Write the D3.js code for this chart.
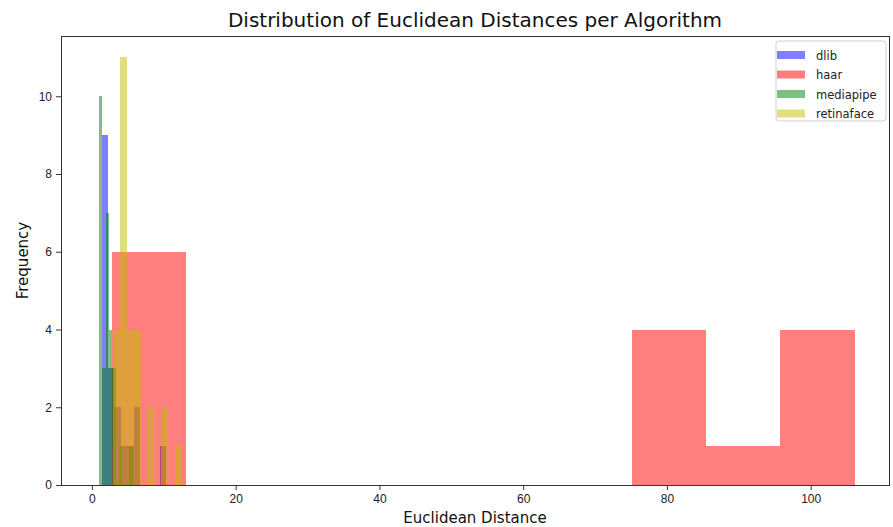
<!DOCTYPE html>
<html>
<head>
<meta charset="utf-8">
<script src="https://cdn.jsdelivr.net/npm/d3@7/dist/d3.min.js"></script>
<style>
	body { margin: 0; background: #fff; }
	svg { display: block; font-family: "DejaVu Sans", sans-serif; }
</style>
</head>
<body>
<svg id="chart" width="893" height="527"></svg>
<script>
// histogram counts (10 bins per algorithm) and the [min, max] range they span
var algorithms = ['dlib', 'haar', 'mediapipe', 'retinaface'];
var dlibCounts = [9, 3, 2, 1, 1, 2, 0, 0, 0, 1];
var dlibRange = [1.35, 10.3];
var haarCounts = [6, 0, 0, 0, 0, 0, 0, 4, 1, 4];
var haarRange = [2.78, 106.1];
var mediapipeCounts = [10, 3, 7, 4, 3, 0, 1, 0, 0, 1];
var mediapipeRange = [0.95, 5.67];
var retinafaceCounts = [4, 11, 4, 4, 0, 2, 0, 2, 0, 1];
var retinafaceRange = [2.96, 12.49];
var xLimits = [-4.3, 110.9];
var xTicks = [0, 20, 40, 60, 80, 100];
var yTicks = [0, 2, 4, 6, 8, 10];

var colors = { dlib: '#0000ff', haar: '#ff0000', mediapipe: '#008000', retinaface: '#bfbf00' };
var hists = {
	dlib: { counts: dlibCounts, range: dlibRange },
	haar: { counts: haarCounts, range: haarRange },
	mediapipe: { counts: mediapipeCounts, range: mediapipeRange },
	retinaface: { counts: retinafaceCounts, range: retinafaceRange }
};

var box = { left: 61, right: 889, top: 36, bottom: 485 };
var svg = d3.select('#chart');

var maxCount = d3.max(algorithms, function(a){ return d3.max(hists[a].counts); });

var x = d3.scaleLinear().domain(xLimits).range([box.left, box.right]);
var y = d3.scaleLinear().domain([0, maxCount * 1.05]).range([box.bottom, box.top]);

// bars, drawn in legend order so later series sit on top
algorithms.forEach(function(a){
	var h = hists[a],
		w = (h.range[1] - h.range[0]) / h.counts.length;
	var bins = h.counts.map(function(c, i){
		return { x0: h.range[0] + i * w, x1: h.range[0] + (i + 1) * w, n: c };
	}).filter(function(b){ return b.n > 0; });

	svg.append('g')
		.selectAll('rect')
		.data(bins)
		.enter().append('rect')
			.attr('x', function(b){ return x(b.x0); })
			.attr('y', function(b){ return y(b.n); })
			.attr('width', function(b){ return x(b.x1) - x(b.x0); })
			.attr('height', function(b){ return y(0) - y(b.n); })
			.attr('fill', colors[a])
			.attr('fill-opacity', 0.5)
			.attr('shape-rendering', 'crispEdges');
});

// axes
var xAxis = svg.append('g')
	.attr('transform', 'translate(0,' + box.bottom + ')')
	.call(d3.axisBottom(x).tickValues(xTicks).tickSize(5).tickPadding(4));
var yAxis = svg.append('g')
	.attr('transform', 'translate(' + box.left + ',0)')
	.call(d3.axisLeft(y).tickValues(yTicks).tickSize(5).tickPadding(4));

[xAxis, yAxis].forEach(function(g){
	g.select('.domain').remove();
	g.selectAll('line').attr('stroke', '#333');
	g.selectAll('text')
		.attr('fill', '#222')
		.style('font-size', '12px');
});

svg.append('rect')
	.attr('x', box.left)
	.attr('y', box.top)
	.attr('width', box.right - box.left)
	.attr('height', box.bottom - box.top)
	.attr('fill', 'none')
	.attr('stroke', '#333')
	.attr('stroke-width', 1)
	.attr('shape-rendering', 'crispEdges');

// titles
svg.append('text')
	.attr('x', (box.left + box.right) / 2)
	.attr('y', 27)
	.attr('text-anchor', 'middle')
	.attr('fill', '#111')
	.style('font-size', '20px')
	.text('Distribution of Euclidean Distances per Algorithm');

svg.append('text')
	.attr('x', (box.left + box.right) / 2)
	.attr('y', 523)
	.attr('text-anchor', 'middle')
	.attr('fill', '#111')
	.style('font-size', '15px')
	.text('Euclidean Distance');

svg.append('text')
	.attr('transform', 'translate(28,' + (box.top + box.bottom) / 2 + ') rotate(-90)')
	.attr('text-anchor', 'middle')
	.attr('fill', '#111')
	.style('font-size', '15px')
	.text('Frequency');

// legend
var legend = svg.append('g').attr('transform', 'translate(776,41)');
legend.append('rect')
	.attr('width', 110)
	.attr('height', 80)
	.attr('rx', 3)
	.attr('fill', '#fff')
	.attr('fill-opacity', 0.8)
	.attr('stroke', '#d0d0d0');

var item = legend.selectAll('g.item')
	.data(algorithms)
	.enter().append('g')
		.attr('class', 'item')
		.attr('transform', function(d, i){ return 'translate(0,' + (9 + i * 19.5) + ')'; });
item.append('rect')
	.attr('x', 1)
	.attr('y', 1)
	.attr('width', 28)
	.attr('height', 8)
	.attr('fill', function(d){ return colors[d]; })
	.attr('fill-opacity', 0.5);
item.append('text')
	.attr('x', 40)
	.attr('y', 9.5)
	.attr('fill', '#222')
	.style('font-size', '11.5px')
	.text(function(d){ return d; });
</script>
</body>
</html>
